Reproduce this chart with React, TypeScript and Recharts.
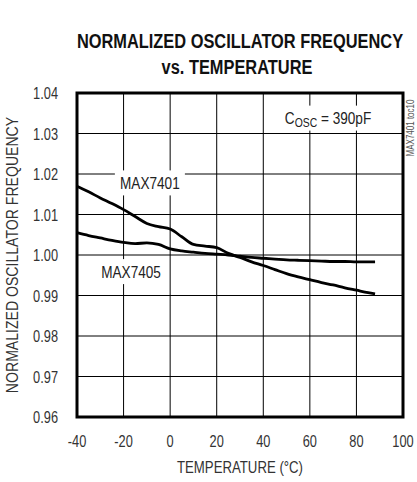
import React from 'react';
import {
  LineChart,
  Line,
  XAxis,
  YAxis,
  CartesianGrid,
  ReferenceArea,
  ReferenceDot,
} from 'recharts';

const temperatures = [-40, -35, -30, -25, -20, -15, -10, -5, 0, 5, 10, 15, 20, 25, 30, 35, 40, 45, 50, 55, 60, 65, 70, 75, 80, 85, 88];

const max7401 = [
  1.017, 1.0156, 1.0141, 1.0127, 1.0112, 1.0095, 1.0078, 1.007, 1.0064, 1.0045, 1.0026, 1.0022, 1.0018,
  1.0004, 0.9994, 0.9983, 0.9974, 0.9964, 0.9954, 0.9946, 0.9939, 0.9932, 0.9926, 0.9919, 0.9913, 0.9907, 0.9904,
];

const max7405 = [
  1.0055, 1.0048, 1.0042, 1.0036, 1.0031, 1.0028, 1.003, 1.0026, 1.0015, 1.001, 1.0007, 1.0004, 1.0002,
  1.0, 0.9997, 0.9994, 0.9992, 0.999, 0.9988, 0.9987, 0.9986, 0.9985, 0.9984, 0.9984, 0.9983, 0.9983, 0.9983,
];

const xTicks = [-40, -20, 0, 20, 40, 60, 80, 100];
const yTicks = [0.96, 0.97, 0.98, 0.99, 1.0, 1.01, 1.02, 1.03, 1.04];

const FONT = '"Liberation Sans", Arial, sans-serif';
const SQUEEZE = 0.8; // no narrow font installed, so squeeze horizontally

const data = temperatures.map((t, i) => ({ t, a: max7401[i], b: max7405[i] }));

// text drawn narrow, like Arial Narrow
const Narrow = ({ x, y, rotate = 0, anchor = 'middle', size = 16, weight = 'normal', fill = '#333', squeeze = SQUEEZE, children }: any) => (
  <text
    transform={`translate(${x},${y}) rotate(${rotate}) scale(${squeeze},1)`}
    textAnchor={anchor}
    fontFamily={FONT}
    fontSize={size}
    fontWeight={weight}
    fill={fill}
  >
    {children}
  </text>
);

const XTick = (props: any) => {
  const { x, y, payload } = props;
  return (
    <Narrow x={x} y={y + 12}>
      {payload.value}
    </Narrow>
  );
};

const YTick = (props: any) => {
  const { x, y, payload } = props;
  return (
    <Narrow x={x} y={y + 6} anchor="end">
      {Number(payload.value).toFixed(2)}
    </Narrow>
  );
};

// white box with text, placed through the chart scales
const boxLabel = (w: number, h: number, content: React.ReactNode) => (props: any) => {
  const { cx, cy } = props;
  return (
    <g>
      <rect x={cx - w / 2} y={cy - h / 2} width={w} height={h} fill="#fff" />
      <Narrow x={cx} y={cy + 6} size={17} fill="#222">
        {content}
      </Narrow>
    </g>
  );
};

export default function App() {
  return (
    <div style={{ position: 'absolute', left: 0, top: 0, width: 417, height: 482, background: '#fff' }}>
      <svg width={417} height={482} style={{ position: 'absolute', left: 0, top: 0 }}>
        <Narrow x={240} y={48} size={20.5} weight="bold" fill="#111">
          NORMALIZED OSCILLATOR FREQUENCY
        </Narrow>
        <Narrow x={237} y={74} size={20.5} weight="bold" fill="#111">
          vs. TEMPERATURE
        </Narrow>
        <Narrow x={18} y={255} rotate={-90} size={16} squeeze={0.88}>
          NORMALIZED OSCILLATOR FREQUENCY
        </Narrow>
        <Narrow x={240} y={473} size={16.5}>
          TEMPERATURE (°C)
        </Narrow>
        <Narrow x={414} y={128} rotate={-90} size={10} fill="#555">
          MAX7401 toc10
        </Narrow>
      </svg>
      <div style={{ position: 'absolute', left: 0, top: 0 }}>
        <LineChart width={417} height={482} data={data} margin={{ top: 93, right: 14, bottom: 0, left: 0 }}>
          <CartesianGrid stroke="#000" strokeWidth={1} horizontalValues={yTicks} verticalValues={xTicks} />
          <XAxis
            dataKey="t"
            type="number"
            domain={[-40, 100]}
            ticks={xTicks}
            height={65}
            axisLine={false}
            tickLine={false}
            tickSize={0}
            tickMargin={18}
            tick={<XTick />}
            interval={0}
          />
          <YAxis
            type="number"
            domain={[0.96, 1.04]}
            ticks={yTicks}
            width={77}
            axisLine={false}
            tickLine={false}
            tickSize={0}
            tickMargin={19}
            tick={<YTick />}
            interval={0}
          />
          <ReferenceArea
            x1={-40}
            x2={100}
            y1={0.96}
            y2={1.04}
            fill="none"
            stroke="#000"
            strokeWidth={3}
            ifOverflow="visible"
          />
          <ReferenceDot x={-8.7} y={1.0178} ifOverflow="visible" shape={boxLabel(70, 25, 'MAX7401')} />
          <ReferenceDot x={-16.8} y={0.9959} ifOverflow="visible" shape={boxLabel(70, 25, 'MAX7405')} />
          <ReferenceDot
            x={67.8}
            y={1.0338}
            ifOverflow="visible"
            shape={boxLabel(
              102,
              25,
              <>
                <tspan>C</tspan>
                <tspan fontSize={13} dy={3}>OSC</tspan>
                <tspan dy={-3}> = 390pF</tspan>
              </>
            )}
          />
          <Line dataKey="a" type="monotone" stroke="#000" strokeWidth={2.8} dot={false} isAnimationActive={false} />
          <Line dataKey="b" type="monotone" stroke="#000" strokeWidth={2.8} dot={false} isAnimationActive={false} />
        </LineChart>
      </div>
    </div>
  );
}
